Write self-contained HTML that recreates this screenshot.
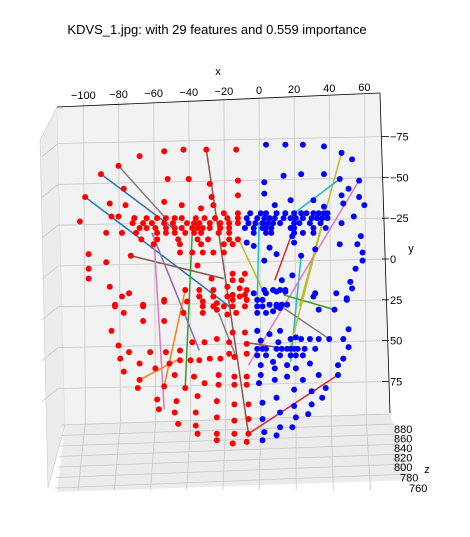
<!DOCTYPE html>
<html><head><meta charset="utf-8"><style>
body{margin:0;background:#fff;}
svg text{font-family:"Liberation Sans",sans-serif;fill:#000;}
</style></head><body>
<svg id="c" width="470" height="532" viewBox="0 0 470 532" xmlns="http://www.w3.org/2000/svg">
<text x="217" y="34" font-size="13" text-anchor="middle">KDVS_1.jpg: with 29 features and 0.559 importance</text>
<polygon points="40,140 57,107 65,425 48,488" fill="#ececec" stroke="#ccc" stroke-width="0.6"/>
<polygon points="57,107 380,93 390,413 65,425" fill="#f2f2f2"/>
<polygon points="65,425 390,413 410,480 57,492" fill="#ebebeb"/>
<g id="grid"></g>
<line x1="57" y1="107" x2="380" y2="93" stroke="#000" stroke-width="0.8"/>
<line x1="380" y1="93" x2="390" y2="413" stroke="#000" stroke-width="0.8"/>
<text x="218" y="75" font-size="11" text-anchor="middle">x</text>
<text x="411" y="252" font-size="11" text-anchor="middle">y</text>
<text x="427" y="473" font-size="11" text-anchor="middle">z</text>
<g id="ticks"></g>
<g id="lines"></g>
<g id="pts"></g>
</svg>
<script>
const xTicks=[-100,-80,-60,-40,-20,0,20,40,60];
const yTicks=[-75,-50,-25,0,25,50,75];
const zTicks=[880,860,840,820,800,780,760];
const redX=[-54,-43,-30,-13,-68,-80,-90,-52,-40,-12,-28,-99,-77,-27,-12,-85,-76,-54,-44,-33,-26,-20,-12,-102,-84,-80,-71,
-71,-64,-58,-53,-48,-44,-36,-31,-25,-18,-12,
-72,-66,-61,-54,-49,-41,-37,-34,-28,-22,-17,-12,
-68,-64,-59,-53,-48,-44,-38,-35,-32,-28,-22,-17,
-87,-78,-70,-58,-53,-48,-42,-37,-33,-23,-17,
-67,-58,-46,-35,-29,-17,-12,-60,-45,-33,-20,-15,-45,-38,-32,-26,-20,
-97,-87,-97,-97,-73,-35,-27,-15,-8,-10,
-42,-34,-26,-15,-18,-11,-7,-34,-26,-18,-11,-32,-24,-15,-7,-41,-85,-82,-66,-54,-74,
-78,-82,-66,-77,-66,-54,-43,-54,-34,-26,-15,-8,-32,-26,-20,-15,-8,-32,-24,-18,-13,-84,-15,-8,-80,-74,-62,-53,-45,-38,-31,-24,-17,-7,-79,-68,-59,-51,-45,-39,-34,-28,-22,-17,-14,-7,-77,-68,-69,-54,-48,-42,-37,-31,-23,-23,-14,-14,-7,-7,-58,-47,-35,-24,-14,-6,-57,-48,-36,-24,-14,-6,-46,-36,-35,-24,-14,-6,-24,-15,-7];
const redY=[-66,-67,-67,-67,-63,-57,-52,-49,-49,-48,-46,-38,-43,-38,-39,-34,-33,-35,-33,-31,-33,-28,-28,-23,-26,-26,-25,
-25,-25,-25,-25,-25,-25,-25,-25,-25,-25,-25,
-22,-22,-22,-22,-22,-22,-22,-22,-22,-22,-22,-22,
-19,-19,-19,-19,-19,-19,-19,-19,-19,-19,-19,-19,
-16,-16,-16,-16,-16,-16,-16,-16,-16,-16,-16,
-12,-12,-12,-12,-12,-12,-12,-9,-9,-9,-9,-9,-4,-4,-4,-4,-4,
-3,2,6,12,-2,4,12,9,9,13,
19,19,19,13,17,18,19,23,23,23,23,26,27,25,25,26,17,28,28,25,21,
23,29,29,33,38,38,33,26,23,23,22,22,29,29,29,29,29,33,31,34,33,44,45,45,53,57,57,57,56,51,51,49,51,52,61,64,67,64,62,62,62,61,61,58,60,58,69,74,79,78,71,79,72,76,71,77,72,77,72,77,86,87,84,87,89,89,92,94,94,97,99,98,101,102,107,107,107,107,111,113,112];
const blueX=[4,15,25,37,47,53,14,24,37,46,57,3,51,3,47,57,18,9,31,37,48,60,47,54,46,56,58,59,59,55,52,53,50,24,32,20,19,18,-7,-3,6,10,3,13,19,3,8,12,15,32,44,-1,2,10,16,31,
-5,1,4,10,15,20,24,27,31,34,37,39,
-7,-1,3,6,9,14,18,21,25,30,33,36,39,
-6,-2,2,5,8,12,20,23,29,35,
-8,-3,2,4,7,20,31,38,
-3,4,7,20,25,31,
-3,4,10,15,50,43,34,-1,2,6,10,13,-1,4,8,12,-1,6,12,21,40,51,48,51,1,11,18,24,29,34,
-1,2,4,10,13,16,18,20,22,26,32,
-1,4,12,18,21,25,
1,8,9,16,21,29,48,45,1,9,16,25,34,45,0,20,30,38,10,20,30,36,2,12,21,28,2,12,19,3,10,2];
const blueY=[-70,-70,-70,-69,-65,-61,-51,-52,-52,-49,-48,-47,-43,-40,-39,-38,-36,-33,-36,-32,-34,-33,-22,-26,-9,-9,-14,-4,1,6,14,18,24,-2,-6,-10,-14,-19,-10,-8,-7,-3,1,13,10,19,19,19,19,21,21,25,25,28,28,23,
-28,-28,-28,-28,-28,-28,-28,-28,-28,-28,-28,-28,
-25,-25,-25,-25,-25,-25,-25,-25,-25,-25,-25,-25,-25,
-22,-22,-22,-22,-22,-22,-22,-22,-22,-22,
-19,-19,-19,-19,-19,-19,-19,-19,
-16,-16,-16,-16,-16,-16,
21,21,20,20,25,31,31,29,29,28,29,28,33,33,32,30,44,46,44,48,49,43,49,54,50,51,49,49,49,49,
55,55,55,55,55,55,55,55,55,55,55,
59,59,59,59,59,59,
65,63,67,65,67,64,61,65,71,74,72,74,71,71,76,80,81,79,85,90,89,85,88,94,97,95,98,103,103,106,108,111];
const segX1=[-80,-90,-99,-30,47,-11,46,24,57,14,-38,-73,-8,-42,-68,-61,-60,45,20,-23,14,0,37];
const segY1=[-57,-52,-38,-67,-65,-11,-49,-2,-48,22,-16,-2,51,19,74,-16,-16,71,-19,33,30,-22,-25];
const segX2=[-54,-49,-17,-6,23,2,20,18,-6,43,-42,-20,16,-54,-45,-34,-54,-6,9,-13,40,-1,18];
const segY2=[-26,-19,29,107,29,19,-28,63,65,31,78,12,55,78,61,56,92,107,13,60,49,28,53];
const segC=["#7f7f7f","#1f77b4","#1f77b4","#8c564b","#bcbd22","#bcbd22","#17becf","#17becf","#e377c2","#2ca02c","#2ca02c","#8c564b","#8c564b","#ff7f0e","#ff7f0e","#9467bd","#e377c2","#d62728","#d62728","#7f7f7f","#7f7f7f","#17becf","#bcbd22"];
const NS="http://www.w3.org/2000/svg";
function sx(x){return 259+1.756*x;}
function sy(y){return 259+1.633*y;}
function mk(t,a,p){const e=document.createElementNS(NS,t);for(const k in a)e.setAttribute(k,a[k]);p.appendChild(e);return e;}
const grid=document.getElementById('grid'),ticks=document.getElementById('ticks');
xTicks.forEach(v=>{
 const l=mk('line',{x1:sx(v),y1:103-(v+100)*0.05,x2:sx(v)+2,y2:422,stroke:'#c8c8c8','stroke-width':0.8},grid);
 
 
 const f=mk('line',{x1:sx(v)+2,y1:422,x2:sx(v)-(259-sx(v))*0.03+(v>0?v*0.05:0),y2:490,stroke:'#c8c8c8','stroke-width':0.8},grid);
 
 
 const t=mk('text',{x:sx(v),y:99-(v+100)*0.05,'font-size':11,'text-anchor':'middle'},ticks);
 t.textContent=(v<0?'\u2212':'')+Math.abs(v);
 
 
});
yTicks.forEach(v=>{
 const y=sy(v);
 const l=mk('line',{x1:58,y1:y+7,x2:385,y2:y,stroke:'#c8c8c8','stroke-width':0.8},grid);
 
 
 const s=mk('line',{x1:42,y1:y+20,x2:58,y2:y+7,stroke:'#c8c8c8','stroke-width':0.8},grid);
 
 
 const m=mk('line',{x1:382,y1:y,x2:389,y2:y,stroke:'#000','stroke-width':0.8},ticks);
 
 
 const t=mk('text',{x:390,y:y+4,'font-size':11},ticks);
 t.textContent=(v<0?'\u2212':'')+Math.abs(v);
 
 
});
zTicks.forEach((v,i)=>{
 const y=429+i*9.5+(i>4?(i-4)*1:0);
 const l=mk('line',{x1:62-i*1.2,y1:425+i*10.5,x2:392+i*3,y2:414+i*10,stroke:'#c8c8c8','stroke-width':0.8},grid);
 
 
 const t=mk('text',{x:394+(i>4?(i-4)*6:0)+(i===6?3:0),y:y+4,'font-size':11},ticks);
 t.textContent=v;
 
 
});
const pts=document.getElementById('pts');
redX.forEach((x,i)=>{
 const c=mk('circle',{cx:sx(x),cy:sy(redY[i]),r:3,fill:'#ff0000'},pts);
 
 
});
blueX.forEach((x,i)=>{
 const c=mk('circle',{cx:sx(x),cy:sy(blueY[i]),r:3,fill:'#0000ff'},pts);
 
 
});
const lines=document.getElementById('lines');
segX1.forEach((x,i)=>{
 const l=mk('line',{x1:sx(x),y1:sy(segY1[i]),x2:sx(segX2[i]),y2:sy(segY2[i]),stroke:segC[i],'stroke-width':1.5},lines);
 
 
});
</script>
</body></html>
